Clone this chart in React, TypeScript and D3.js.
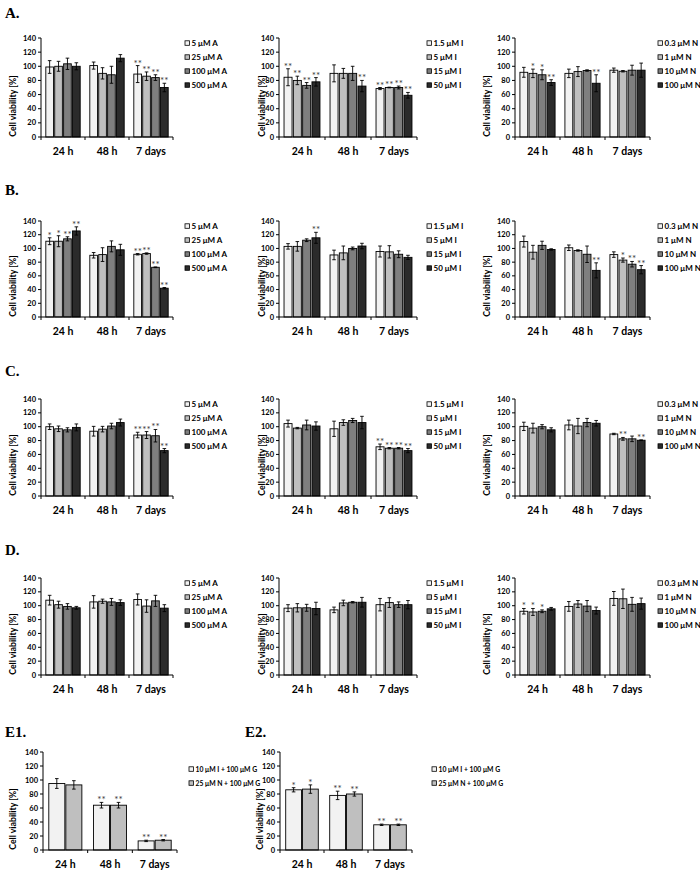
import React from "react";
import * as d3 from "d3";

// ---------- data ----------
const categories = ["24 h", "48 h", "7 days"];
const yTicks = [0, 20, 40, 60, 80, 100, 120, 140];
const seriesA = ["5 μM A", "25 μM A", "100 μM A", "500 μM A"];
const seriesI = ["1.5 μM I", "5 μM I", "15 μM I", "50 μM I"];
const seriesN = ["0.3 μM N", "1 μM N", "10 μM N", "100 μM N"];
const seriesE = ["10 μM I + 100 μM G", "25 μM N + 100 μM G"];
const rowLabels = ["A.", "B.", "C.", "D."];
const eLabels = ["E1.", "E2."];

const none4 = ["", "", "", ""];
const all4 = ["**", "**", "**", "**"];

const valA1 = [[99, 100, 103.5, 100], [101, 90, 88, 111.5], [89, 86, 84, 70]];
const errA1 = [[9, 7, 8, 5], [5, 8, 12, 5], [12, 6, 4, 6]];
const starA1 = [none4, none4, all4];

const valA2 = [[84.5, 80, 73, 78], [90, 90, 90, 72], [68.5, 70, 70, 59]];
const errA2 = [[12, 6, 4, 6], [12, 7, 10, 8], [1.5, 0.5, 2, 4]];
const starA2 = [all4, ["", "", "", "**"], all4];

const valA3 = [[91.5, 90, 88, 77], [90, 92.5, 94, 76], [94.5, 93, 94.5, 94.5]];
const errA3 = [[7, 6, 7, 4], [6, 7, 1, 12], [3, 1, 7, 10]];
const starA3 = [["", "*", "*", "**"], ["", "", "", "**"], none4];

const valB1 = [[110.5, 110.5, 114, 125.5], [90, 91, 103, 98], [91.5, 92.5, 72.5, 42]];
const errB1 = [[5, 8, 3, 6], [4, 10, 8, 8], [1, 1, 0.5, 1]];
const starB1 = [["*", "*", "**", "**"], none4, all4];

const valB2 = [[103, 103, 112, 115.5], [90.5, 93.5, 100, 103.5], [95.5, 95, 91.5, 87]];
const errB2 = [[4, 7, 2, 8], [7, 10, 2, 4], [8, 9, 5, 3]];
const starB2 = [["", "", "", "**"], none4, none4];

const valB3 = [[110, 94.5, 104.5, 98.5], [101, 97, 91.5, 68], [91, 83, 77, 69]];
const errB3 = [[8, 10, 6, 1], [4, 1, 12, 11], [4, 3, 4, 6]];
const starB3 = [none4, ["", "", "", "**"], ["", "*", "**", "**"]];

const valC1 = [[100, 97, 95.5, 99], [93.5, 96.5, 101, 106], [88, 88, 87, 65.5]];
const errC1 = [[4, 4, 3, 5], [7, 4, 4, 5], [4, 5, 9, 3]];
const starC1 = [none4, none4, all4];

const valC2 = [[104.5, 98, 102.5, 101], [97, 106, 109, 106], [71, 69, 69, 65.5]];
const errC2 = [[5, 1, 7, 6], [11, 4, 3, 9], [4, 1, 1, 3]];
const starC2 = [none4, none4, all4];

const valC3 = [[100.5, 98, 100, 95.5], [102.5, 101, 106, 105], [89.5, 82.5, 82.5, 80.5]];
const errC3 = [[6, 7, 3, 3], [7, 11, 6, 4], [1, 2, 4, 0.5]];
const starC3 = [none4, none4, ["", "**", "", "**"]];

const valD1 = [[108, 101.5, 99, 97], [105.5, 106.5, 105.5, 104.5], [109, 99.5, 107, 96.5]];
const errD1 = [[7, 5, 4, 2], [9, 3, 5, 4], [8, 9, 8, 5]];
const starD1 = [none4, none4, none4];

const valD2 = [[96.5, 97, 97, 96], [94, 104, 105, 105], [101.5, 104.5, 101.5, 101.5]];
const errD2 = [[5, 6, 5, 9], [4, 4, 1, 7], [9, 7, 4, 6]];
const starD2 = [none4, none4, none4];

const valD3 = [[92, 91, 92, 95.5], [99, 102.5, 99.5, 93], [110.5, 110, 102, 103]];
const errD3 = [[4, 5, 2, 2], [7, 5, 8, 5], [10, 14, 10, 8]];
const starD3 = [["*", "*", "*", ""], none4, none4];

const valE1 = [[95, 93], [64, 64], [13, 14]];
const errE1 = [[7, 6], [4, 4], [1, 1]];
const starE1 = [["", ""], ["**", "**"], ["**", "**"]];

const valE2 = [[86, 87], [78, 80], [36, 36]];
const errE2 = [[3, 6], [6, 3], [1, 1]];
const starE2 = [["*", "*"], ["**", "**"], ["**", "**"]];

// ---------- styles / layout ----------
const colors4 = ["#f2f2f2", "#bfbfbf", "#7f7f7f", "#2b2b2b"];
const colors2 = ["#f2f2f2", "#bfbfbf"];
const FONT = "Lato, 'Open Sans', sans-serif";

const rowY = [[38, 137], [221, 317], [399, 496], [578, 675]];
const rowLabelY = [18, 195, 376, 555];
const colX = [[41, 173], [279, 417], [515, 650]];
const legendX = [185, 427, 658];
const yLabelX = [13, 262, 487];

type PanelProps = {
  x0: number; x1: number; yTop: number; yBot: number;
  values: number[][]; errors: number[][]; stars: string[][];
  series: string[]; colors: string[]; legendX: number; yLabelX: number;
  padOuter: number; padInner: number; legendDy: number; legendFont: number;
};

function Panel(p: PanelProps) {
  const y = d3.scaleLinear().domain([0, 140]).range([p.yBot, p.yTop]);
  const xCat = d3.scaleBand<string>().domain(categories).range([p.x0, p.x1]);
  const idx = p.series.map((_, i) => String(i));
  const xSer = d3.scaleBand<string>().domain(idx).range([0, xCat.bandwidth()])
    .paddingInner(p.padInner).paddingOuter(p.padOuter);
  const bw = xSer.bandwidth();
  const boundaries = [p.x0, ...categories.map((c) => (xCat(c) as number) + xCat.bandwidth())];
  return (
    <g>
      {categories.map((c, ci) =>
        p.series.map((s, si) => {
          const v = p.values[ci][si];
          const e = p.errors[ci][si];
          const bx = (xCat(c) as number) + (xSer(String(si)) as number);
          const cx = bx + bw / 2;
          const top = y(v + e);
          const bot = y(v - e);
          return (
            <g key={c + s}>
              <rect x={bx} y={y(v)} width={bw} height={y(0) - y(v)}
                fill={p.colors[si]} stroke="#000" strokeWidth={0.9} />
              <line x1={cx} x2={cx} y1={top} y2={bot} stroke="#000" strokeWidth={0.9} />
              <line x1={cx - 1.8} x2={cx + 1.8} y1={top} y2={top} stroke="#000" strokeWidth={0.9} />
              <line x1={cx - 1.8} x2={cx + 1.8} y1={bot} y2={bot} stroke="#000" strokeWidth={0.9} />
              {p.stars[ci][si] && (
                <text x={cx} y={top + 1} textAnchor="middle" fontSize={10}
                  fontFamily={FONT} fill="#3a3a3a">{p.stars[ci][si]}</text>
              )}
            </g>
          );
        })
      )}
      {/* y axis */}
      <line x1={p.x0} x2={p.x0} y1={y(0)} y2={y(140)} stroke="#000" strokeWidth={1} />
      {yTicks.map((t) => (
        <g key={t}>
          <line x1={p.x0 - 3} x2={p.x0} y1={y(t)} y2={y(t)} stroke="#000" strokeWidth={1} />
          <text x={p.x0 - 5} y={y(t) + 2.5} textAnchor="end" fontSize={7.5}
            fontWeight="bold" fontFamily={FONT}>{t}</text>
        </g>
      ))}
      {/* x axis */}
      <line x1={p.x0} x2={p.x1} y1={y(0)} y2={y(0)} stroke="#000" strokeWidth={1} />
      {boundaries.map((bx, i) => (
        <line key={i} x1={bx} x2={bx} y1={y(0)} y2={y(0) + 3} stroke="#000" strokeWidth={1} />
      ))}
      {categories.map((c) => (
        <text key={c} x={(xCat(c) as number) + xCat.bandwidth() / 2} y={y(0) + 18}
          textAnchor="middle" fontSize={10.5} fontWeight="bold" fontFamily={FONT}>{c}</text>
      ))}
      <text transform={`translate(${p.yLabelX + 3},${y(0) - 31}) rotate(-90)`}
        textAnchor="middle" fontSize={8.7} fontWeight="bold" fontFamily={FONT}>Cell viability [%]</text>
      {/* legend */}
      {p.series.map((s, si) => (
        <g key={s}>
          <rect x={p.legendX} y={p.yTop + p.legendDy + 2.8 + si * 14} width={4.5} height={4.5}
            fill={p.colors[si]} stroke="#000" strokeWidth={0.8} />
          <text x={p.legendX + 6.5} y={p.yTop + p.legendDy + 8 + si * 14} fontSize={p.legendFont}
            fontWeight="bold" fontFamily={FONT}>{s}</text>
        </g>
      ))}
    </g>
  );
}

const gridData = [
  [[valA1, errA1, starA1], [valA2, errA2, starA2], [valA3, errA3, starA3]],
  [[valB1, errB1, starB1], [valB2, errB2, starB2], [valB3, errB3, starB3]],
  [[valC1, errC1, starC1], [valC2, errC2, starC2], [valC3, errC3, starC3]],
  [[valD1, errD1, starD1], [valD2, errD2, starD2], [valD3, errD3, starD3]],
];
const colSeries = [seriesA, seriesI, seriesN];
const eData = [[valE1, errE1, starE1], [valE2, errE2, starE2]];
const eX = [[43, 177], [280, 412]];
const eLegendX = [189, 432];
const eYLabelX = [13, 260];
const eLabelX = [5, 245];

export default function App() {
  return (
    <svg width={700} height={883} style={{ position: "absolute", left: 0, top: 0, background: "#fff" }}>
      <rect width={700} height={883} fill="#fff" />
      {rowLabels.map((l, ri) => (
        <text key={l} x={5} y={rowLabelY[ri]} fontSize={15} fontWeight="bold"
          fontFamily="'Liberation Serif', 'Times New Roman', serif">{l}</text>
      ))}
      {gridData.map((row, ri) =>
        row.map((d, ci) => (
          <Panel key={ri + "-" + ci}
            x0={colX[ci][0]} x1={colX[ci][1]} yTop={rowY[ri][0]} yBot={rowY[ri][1]}
            values={d[0] as number[][]} errors={d[1] as number[][]} stars={d[2] as string[][]}
            series={colSeries[ci]} colors={colors4} legendX={legendX[ci]} yLabelX={yLabelX[ci]}
            padOuter={0.54} padInner={0.14} legendDy={0} legendFont={8} />
        ))
      )}
      {eLabels.map((l, i) => (
        <text key={l} x={eLabelX[i]} y={737} fontSize={15} fontWeight="bold"
          fontFamily="'Liberation Serif', 'Times New Roman', serif">{l}</text>
      ))}
      {eData.map((d, i) => (
        <Panel key={"e" + i}
          x0={eX[i][0]} x1={eX[i][1]} yTop={752} yBot={850}
          values={d[0] as number[][]} errors={d[1] as number[][]} stars={d[2] as string[][]}
          series={seriesE} colors={colors2} legendX={eLegendX[i]} yLabelX={eYLabelX[i]}
          padOuter={0.34} padInner={0.06} legendDy={12} legendFont={6.8} />
      ))}
    </svg>
  );
}
